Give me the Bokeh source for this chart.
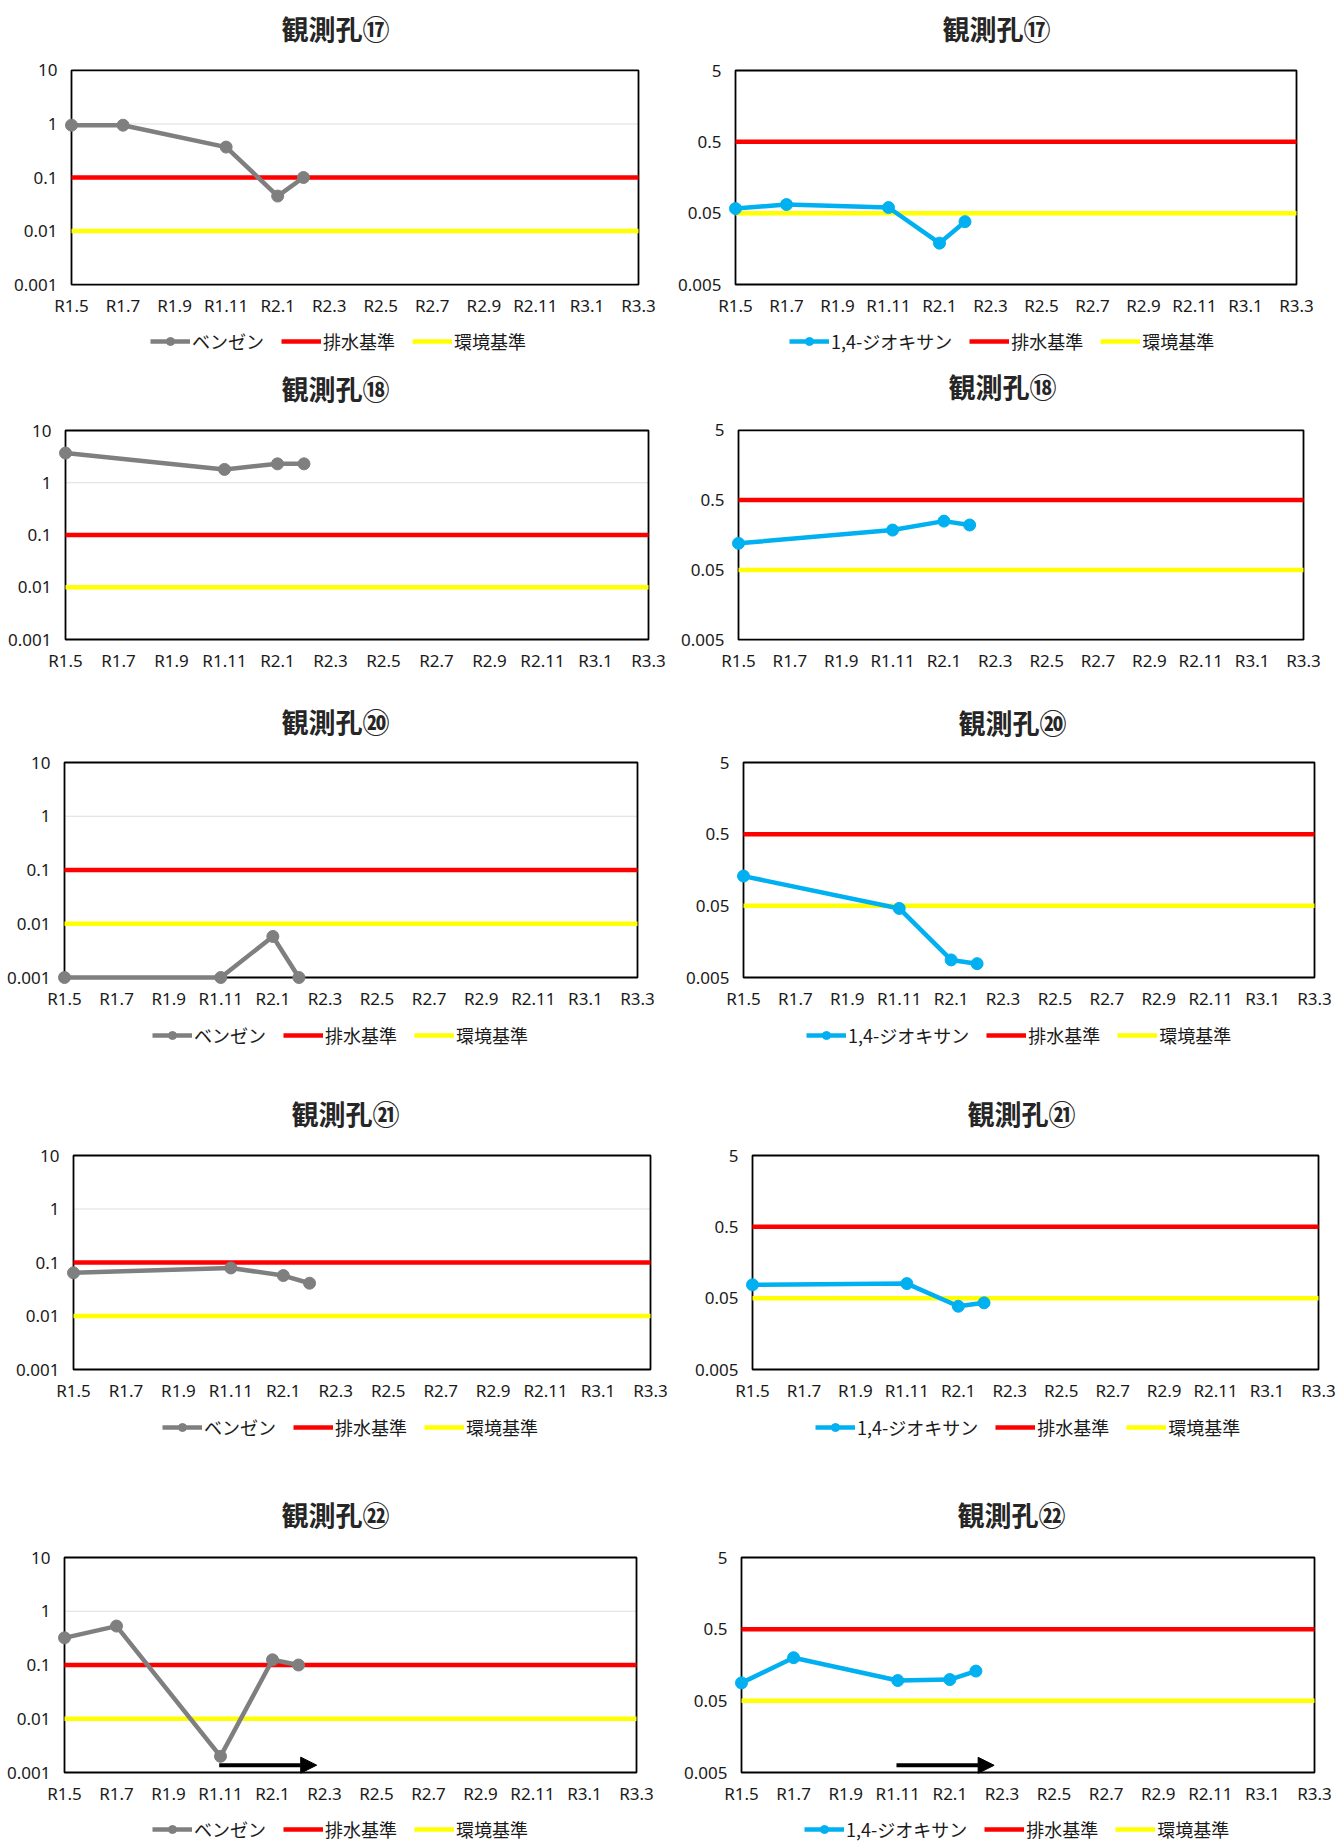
import math
from bokeh.plotting import figure
from bokeh.models import (Range1d, FixedTicker, CustomJSTickFormatter, Legend, LegendItem,
                          Label, BoxAnnotation, Arrow, NormalHead)
from bokeh.layouts import column, row
from bokeh.embed import file_html
from bokeh.resources import INLINE

# ---------------- data ----------------
months = ["R1.5", "R1.6", "R1.7", "R1.8", "R1.9", "R1.10", "R1.11", "R1.12",
          "R2.1", "R2.2", "R2.3", "R2.4", "R2.5", "R2.6", "R2.7", "R2.8", "R2.9",
          "R2.10", "R2.11", "R2.12", "R3.1", "R3.2", "R3.3"]
x_labels = ["R1.5", "R1.7", "R1.9", "R1.11", "R2.1", "R2.3", "R2.5", "R2.7",
            "R2.9", "R2.11", "R3.1", "R3.3"]

benzene_ticks = [0.001, 0.01, 0.1, 1, 10]
dioxane_ticks = [0.005, 0.05, 0.5, 5]
benzene_effluent_std = 0.1
benzene_env_std = 0.01
dioxane_effluent_std = 0.5
dioxane_env_std = 0.05

wells = ["観測孔⑰", "観測孔⑱", "観測孔⑳", "観測孔㉑", "観測孔㉒"]

dates_17 = ["R1.5", "R1.7", "R1.11", "R2.1", "R2.2"]
benzene_17 = [0.95, 0.95, 0.37, 0.045, 0.10]
dioxane_17 = [0.058, 0.066, 0.060, 0.019, 0.038]

dates_18 = ["R1.5", "R1.11", "R2.1", "R2.2"]
benzene_18 = [3.7, 1.8, 2.3, 2.3]
dioxane_18 = [0.12, 0.186, 0.25, 0.22]

dates_20 = ["R1.5", "R1.11", "R2.1", "R2.2"]
benzene_20 = [0.001, 0.001, 0.0058, 0.001]
dioxane_20 = [0.13, 0.046, 0.0088, 0.0078]

dates_21 = ["R1.5", "R1.11", "R2.1", "R2.2"]
benzene_21 = [0.064, 0.079, 0.057, 0.041]
dioxane_21 = [0.077, 0.080, 0.0385, 0.043]

dates_22 = ["R1.5", "R1.7", "R1.11", "R2.1", "R2.2"]
benzene_22 = [0.32, 0.53, 0.002, 0.125, 0.10]
dioxane_22 = [0.089, 0.20, 0.096, 0.099, 0.13]

arrow_span = (5.95, 9.7)          # month-index units
arrow_level_benzene = 0.00137
arrow_level_dioxane = 0.0063

# ---------------- style / layout ----------------
GRAY = "#7f7f7f"
BLUE = "#00b0f0"
RED = "#ff0000"
YELLOW = "#ffff00"
TEXT = "#1a1a1a"
JP = "Noto Sans CJK JP"
NUM = "Noto Sans"
TITLE_PX = 27
M = 7            # pixels of frame beyond the drawn box
PAGE_X0 = 0
PAGE_W = 1339
LH = 20          # legend row height

cells_x = [(0, 669), (669, 1339)]
# per row: title band top, main top, legend band top, row bottom (page px)
row_bands = [
    (0, 50, 325, 362),
    (362, 408, 690, 690),
    (690, 742, 1015, 1075),
    (1075, 1135, 1410, 1470),
    (1470, 1538, 1808, 1843),
]
layout_spec = [
    [dict(box=(71, 638, 69, 284), title=(335, 28), legend=(150, 344)),
     dict(box=(735, 1296, 70, 284), title=(996, 28), legend=(789, 344))],
    [dict(box=(65, 648, 430, 639), title=(335, 388), legend=None),
     dict(box=(738, 1303, 427, 641), title=(1002, 386), legend=None)],
    [dict(box=(64, 637, 762, 977), title=(335, 721), legend=(152, 1038)),
     dict(box=(743, 1314, 762, 977), title=(1012, 722), legend=(806, 1038))],
    [dict(box=(73, 650, 1155, 1369), title=(345, 1113), legend=(162, 1430)),
     dict(box=(752, 1318, 1155, 1369), title=(1021, 1113), legend=(815, 1430))],
    [dict(box=(64, 636, 1557, 1772), title=(335, 1514), legend=(152, 1832)),
     dict(box=(741, 1314, 1557, 1772), title=(1011, 1514), legend=(804, 1832))],
]

series = [
    (dates_17, benzene_17, dioxane_17, None),
    (dates_18, benzene_18, dioxane_18, None),
    (dates_20, benzene_20, dioxane_20, None),
    (dates_21, benzene_21, dioxane_21, None),
    (dates_22, benzene_22, dioxane_22, (arrow_level_benzene, arrow_level_dioxane)),
]

KINDS = {
    "benzene": dict(ticks=benzene_ticks, eff=benzene_effluent_std, env=benzene_env_std,
                    color=GRAY, name="ベンゼン"),
    "dioxane": dict(ticks=dioxane_ticks, eff=dioxane_effluent_std, env=dioxane_env_std,
                    color=BLUE, name="1,4-ジオキサン"),
}


def idx(labels):
    return [months.index(s) for s in labels]


def blank_band(height):
    p = figure(width=PAGE_W, height=height, x_range=Range1d(0, 1), y_range=Range1d(0, 1),
               x_axis_location=None, y_axis_location=None, min_border=0,
               output_backend="svg", toolbar_location=None)
    p.outline_line_color = None
    p.grid.visible = False
    p.background_fill_color = "white"
    p.border_fill_color = "white"
    return p


def make_chart(spec, cx, cy, dates, vals, kind, arrow_y=None):
    k = KINDS[kind]
    ticks = k["ticks"]
    L, R, T, B = spec["box"]
    fl, fr, ft, fb = L - M, R + M, T - M, B + M
    W = cx[1] - cx[0]
    H = cy[1] - cy[0]
    n = len(months) - 1
    padx = M * n / (R - L)
    ymin, ymax = ticks[0], ticks[-1]
    D = math.log10(ymax / ymin)
    pady = M * D / (B - T)

    p = figure(width=W, height=H, x_range=Range1d(-padx, n + padx),
               y_range=Range1d(ymin / 10 ** pady, ymax * 10 ** pady),
               y_axis_type="log", output_backend="svg", toolbar_location=None,
               min_border_left=fl - cx[0], min_border_right=cx[1] - fr,
               min_border_top=ft - cy[0], min_border_bottom=cy[1] - fb)
    p.outline_line_color = None
    p.grid.visible = False
    p.background_fill_color = "white"
    p.border_fill_color = "white"

    p.xaxis.ticker = FixedTicker(ticks=idx(x_labels), minor_ticks=[])
    p.xaxis.formatter = CustomJSTickFormatter(args=dict(labels=months),
                                              code="return labels[Math.round(tick)];")
    p.yaxis.ticker = FixedTicker(ticks=ticks, minor_ticks=[])
    p.yaxis.formatter = CustomJSTickFormatter(code="return String(parseFloat(tick.toPrecision(6)));")
    for ax in (p.xaxis, p.yaxis):
        ax.axis_line_color = None
        ax.major_tick_line_color = None
        ax.minor_tick_line_color = None
        ax.major_tick_out = 0
        ax.major_tick_in = 0
        ax.major_label_text_font = NUM
        ax.major_label_text_font_size = "17px"
        ax.major_label_text_color = TEXT
    p.xaxis.major_label_standoff = 2
    p.yaxis.major_label_standoff = 7

    p.segment(x0=[0] * len(ticks), x1=[n] * len(ticks), y0=ticks, y1=ticks,
              line_color="#dedede", line_width=1, level="underlay")
    p.add_layout(BoxAnnotation(left=0, right=n, bottom=ymin, top=ymax,
                               fill_alpha=0, line_color="black", line_alpha=1.0,
                               line_width=1.8, level="underlay"))

    xs_all = list(range(len(months)))
    p.line(xs_all, [k["eff"]] * len(months), line_color=RED, line_width=4.5)
    p.line(xs_all, [k["env"]] * len(months), line_color=YELLOW, line_width=4.5)
    xs = idx(dates)
    p.line(xs, vals, line_color=k["color"], line_width=4.5)
    p.scatter(xs, vals, size=12, fill_color=k["color"], line_color=k["color"])

    if arrow_y is not None:
        p.add_layout(Arrow(end=NormalHead(size=16, fill_color="black", line_color="black"),
                           x_start=arrow_span[0], x_end=arrow_span[1],
                           y_start=arrow_y, y_end=arrow_y,
                           line_color="black", line_width=4))
    return p


def make_title_band(r):
    t0, t1 = row_bands[r][0], row_bands[r][1]
    p = blank_band(t1 - t0)
    for spec in layout_spec[r]:
        tx, ty = spec["title"]
        p.add_layout(Label(x=tx - PAGE_X0, y=t1 - ty, x_units="screen", y_units="screen",
                           text=wells[r], text_align="center", text_baseline="middle",
                           text_font=JP, text_font_size=f"{TITLE_PX}px",
                           text_font_style="bold", text_color="#262626"))
    return p


def make_legend_band(r):
    l0, l1 = row_bands[r][2], row_bands[r][3]
    p = blank_band(l1 - l0)
    for spec, kind in zip(layout_spec[r], ["benzene", "dioxane"]):
        k = KINDS[kind]
        lx, ly = spec["legend"]
        # legend proxies, placed outside the visible range of this band
        r_line = p.line([2, 3], [2, 2], line_color=k["color"], line_width=4.5)
        r_pts = p.scatter([2.5], [2], size=11, fill_color=k["color"], line_color=k["color"])
        r_eff = p.line([2, 3], [3, 3], line_color=RED, line_width=4.5)
        r_env = p.line([2, 3], [4, 4], line_color=YELLOW, line_width=4.5)
        legend = Legend(items=[LegendItem(label=k["name"], renderers=[r_line, r_pts]),
                               LegendItem(label="排水基準", renderers=[r_eff]),
                               LegendItem(label="環境基準", renderers=[r_env])],
                        orientation="horizontal",
                        location=(lx - PAGE_X0, l1 - (ly + LH / 2)),
                        glyph_width=40, glyph_height=LH, label_height=LH,
                        label_standoff=2, spacing=17, padding=0, margin=0,
                        border_line_color=None, background_fill_alpha=0,
                        label_text_font=JP, label_text_font_size="18px",
                        label_text_color=TEXT)
        p.add_layout(legend)
    return p


blocks = []
for r in range(5):
    dates, bvals, dvals, arrows = series[r]
    t0, m0, l0, r1 = row_bands[r]
    blocks.append(make_title_band(r))
    left = make_chart(layout_spec[r][0], cells_x[0], (m0, l0), dates, bvals,
                      "benzene", None if arrows is None else arrows[0])
    right = make_chart(layout_spec[r][1], cells_x[1], (m0, l0), dates, dvals,
                       "dioxane", None if arrows is None else arrows[1])
    blocks.append(row(left, right, spacing=0))
    if layout_spec[r][0]["legend"] is not None and r1 > l0:
        blocks.append(make_legend_band(r))

root = column(*blocks, spacing=0)
open("out.html", "w").write(file_html(root, INLINE))
